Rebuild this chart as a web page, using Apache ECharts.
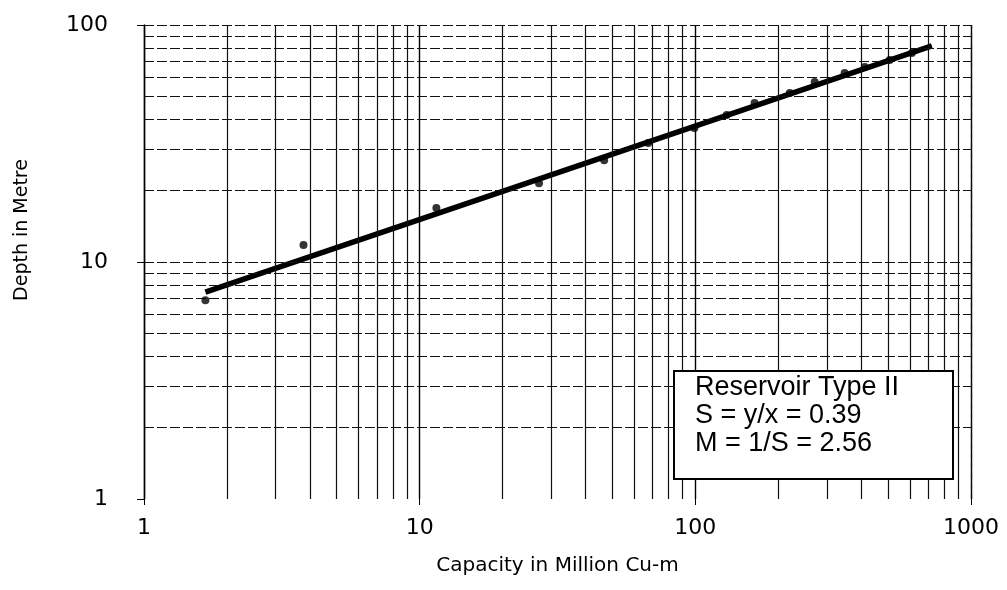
<!DOCTYPE html>
<html>
<head>
<meta charset="utf-8">
<script src="https://cdn.jsdelivr.net/npm/echarts@6/dist/echarts.min.js"></script>
<style>html,body{margin:0;padding:0;background:#fff}#c{width:1007px;height:590px}</style>
</head>
<body>
<div id="c"></div>
<script>
// Observed points (Capacity in Million Cu-m vs Depth in Metre)
const capacity = [1.67, 3.79, 11.5, 27.1, 46.7, 67.5, 99.2, 130, 164, 220, 271, 348, 412, 507, 610];
const depth    = [6.9, 11.8, 16.9, 21.5, 26.9, 31.8, 36.8, 41.7, 46.9, 51.7, 57.5, 62.7, 66.5, 71.2, 76.2];
// Fitted trend line end points
const trendX = [1.67, 721];
const trendY = [7.47, 81.6];
// Log-paper grid values
const xGridValues = [2,3,4,5,6,7,8,9,20,30,40,50,60,70,80,90,200,300,400,500,600,700,800,900];
const xDashedGridValues = [1000];
const yGridValues = [2,3,4,5,6,7,8,9,10,20,30,40,50,60,70,80,90,100];
const xTickLabels = [1, 10, 100, 1000];
const yTickLabels = [1, 10, 100];
const noteLines = ['Reservoir Type II', 'S = y/x = 0.39', 'M = 1/S = 2.56'];

const FONT = 'Arial, "Liberation Sans", sans-serif';
const WIDE = '"DejaVu Sans", sans-serif';
const chart = echarts.init(document.getElementById('c'), null, {renderer: 'canvas'});

const GL = 144, GR = 36, GT = 25, GB = 91;

chart.setOption({
  animation: false,
  backgroundColor: '#fff',
  grid: {left: GL, right: GR, top: GT, bottom: GB},
  xAxis: {
    type: 'log', logBase: 10, min: xTickLabels[0], max: xTickLabels[xTickLabels.length - 1],
    name: 'Capacity in Million Cu-m', nameLocation: 'middle', nameGap: 57,
    nameTextStyle: {fontFamily: WIDE, fontSize: 20, color: '#000'},
    axisLine: {show: false},
    axisTick: {show: true, length: 6, lineStyle: {color: '#000', width: 1}},
    axisLabel: {fontFamily: WIDE, fontSize: 22, color: '#000', margin: 18,
      formatter: v => String(v)},
    splitLine: {show: true, interval: (i, v) => v < 1000,
      lineStyle: {color: '#000', width: 1.4, type: 'solid'}}
  },
  yAxis: {
    type: 'log', logBase: 10, min: yTickLabels[0], max: yTickLabels[yTickLabels.length - 1],
    name: 'Depth in Metre', nameLocation: 'middle', nameGap: 112,
    nameTextStyle: {fontFamily: WIDE, fontSize: 19, color: '#000', padding: [0, 0, 0, 64]},
    axisLine: {show: true, lineStyle: {color: '#000', width: 1.4}},
    axisTick: {show: true, inside: false, length: 7, lineStyle: {color: '#000', width: 1}},
    axisLabel: {fontFamily: WIDE, fontSize: 22, color: '#000', margin: 36,
      formatter: v => String(v)},
    splitLine: {show: false}
  },
  series: [
    {
      type: 'line', data: [], silent: true, z: 1,
      markLine: {
        silent: true, symbol: ['none', 'none'], label: {show: false}, animation: false,
        data: [
          ...xGridValues.map(v => ({xAxis: v, lineStyle: {color: '#111', width: 1.2, type: 'solid'}})),
          ...xDashedGridValues.map(v => ({xAxis: v, lineStyle: {color: '#111', width: 1.2, type: [6, 4]}})),
          ...yGridValues.map(v => ({yAxis: v, lineStyle: {color: '#111', width: 1.2, type: [10, 3]}}))
        ]
      }
    },
    {
      type: 'line', name: 'Trend', data: trendX.map((x, i) => [x, trendY[i]]),
      symbol: 'none', z: 4, lineStyle: {color: '#000', width: 5.5}
    },
    {
      type: 'scatter', name: 'Observed', data: capacity.map((x, i) => [x, depth[i]]),
      symbol: 'circle', symbolSize: 8, z: 5, itemStyle: {color: '#000'}
    }
  ],
  graphic: [
    {
      type: 'rect', left: 673, top: 370, z: 100, zlevel: 1,
      shape: {width: 279, height: 108},
      style: {fill: '#fff', stroke: '#000', lineWidth: 2}
    },
    ...noteLines.map((t, i) => ({
      type: 'text', left: 695, top: 374 + i * 28, z: 101, zlevel: 1,
      style: {text: t, fontFamily: FONT, fontSize: 27, fill: '#000'}
    }))
  ]
});
</script>
</body>
</html>
